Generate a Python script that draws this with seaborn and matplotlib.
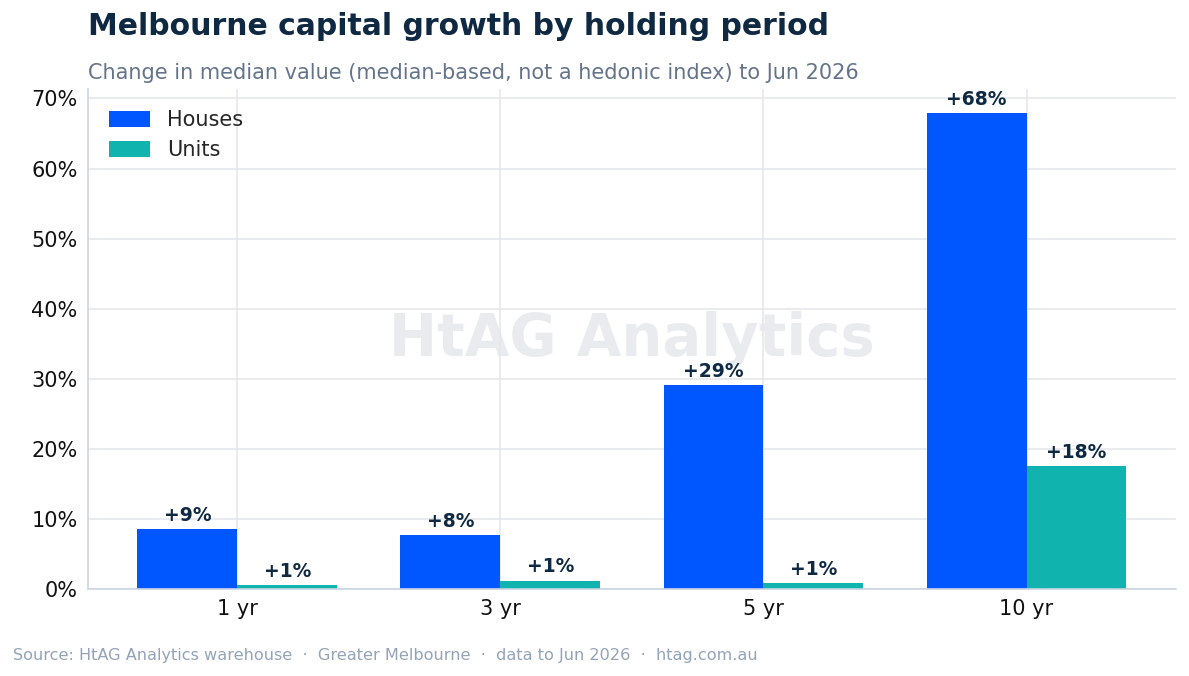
import matplotlib
matplotlib.use("Agg")
import matplotlib.pyplot as plt
import seaborn as sns
import pandas as pd

periods = ["1 yr", "3 yr", "5 yr", "10 yr"]
houses = [8.57, 7.71, 29.14, 67.95]
units = [0.57, 1.19, 0.90, 17.55]
series_names = ["Houses", "Units"]
colors = {"Houses": "#0057FF", "Units": "#10B3AD"}

df = pd.DataFrame({
    "period": periods * 2,
    "growth": houses + units,
    "type": ["Houses"] * 4 + ["Units"] * 4,
})

sns.set_theme(style="white")
plt.rcParams["font.family"] = ["DejaVu Sans"]

fig = plt.figure(figsize=(11.89, 6.76), dpi=100)
ax = fig.add_axes([0.074, 0.1287, 0.915, 0.7396])

sns.barplot(data=df, x="period", y="growth", hue="type", order=periods,
            hue_order=series_names, palette=colors, width=0.76,
            saturation=1, linewidth=0, ax=ax, zorder=2)

for cont in ax.containers:
    ax.bar_label(cont, labels=[f"+{v:.0f}%" for v in cont.datavalues],
                 padding=3, fontsize=13.5, fontweight="bold", color="#0f2942")

ax.set_xlim(-0.568, 3.568)
ax.set_ylim(0, max(houses) * 1.05)
ax.set_yticks(range(0, 71, 10))
ax.set_yticklabels([f"{t}%" for t in range(0, 71, 10)])
ax.set_xlabel("")
ax.set_ylabel("")
ax.grid(True, color="#e5e7eb", linewidth=1.2, zorder=0)
ax.set_axisbelow(True)
for s in ["top", "right"]:
    ax.spines[s].set_visible(False)
for s in ["left", "bottom"]:
    ax.spines[s].set_color("#cbd5e1")
    ax.spines[s].set_linewidth(1.2)
ax.tick_params(axis="both", labelsize=15, length=4, color="#333333")
for lbl in ax.get_xticklabels() + ax.get_yticklabels():
    lbl.set_color("#111111")

ax.legend(loc="upper left", frameon=False, fontsize=15,
          handlelength=2.0, handleheight=0.8, borderaxespad=0.6)

ax.text(0.5, 0.5, "HtAG Analytics", transform=ax.transAxes, ha="center",
        va="center", fontsize=41.5, fontweight="bold", color="#e5e7eb",
        alpha=0.8, zorder=1)

fig.text(0.074, 0.961, "Melbourne capital growth by holding period",
         fontsize=21.5, fontweight="bold", color="#0f2942", va="center")
fig.text(0.074, 0.892,
         "Change in median value (median-based, not a hedonic index) to Jun 2026",
         fontsize=15, color="#64748b", va="center")
fig.text(0.011, 0.031,
         "Source: HtAG Analytics warehouse  \u00b7  Greater Melbourne  \u00b7  data to Jun 2026  \u00b7  htag.com.au",
         fontsize=11.6, color="#94a3b8", va="center")

fig.savefig("out.png", dpi=100)
